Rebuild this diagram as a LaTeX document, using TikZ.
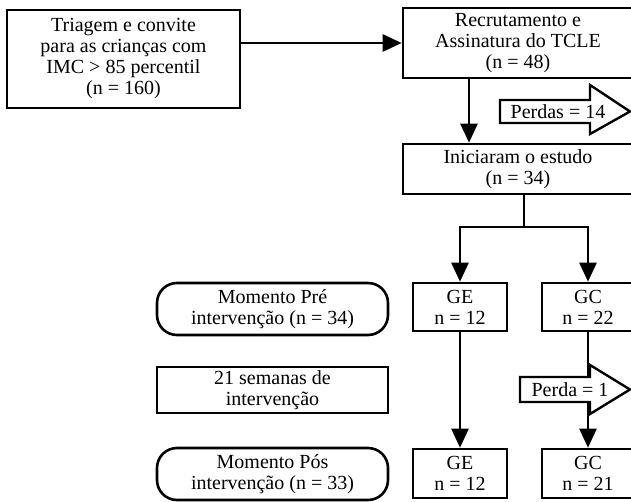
\documentclass[tikz,border=0pt]{standalone}
\usepackage{fontspec}
\setmainfont{Liberation Serif}
\usetikzlibrary{arrows.meta}
\begin{document}
\begin{tikzpicture}[x=1pt,y=-1pt,
  box/.style={draw, line width=2.6pt, align=center, font=\fontsize{20}{21}\selectfont, inner sep=0pt},
  rbox/.style={box, rounded corners=20pt},
  conn/.style={line width=2.6pt},
  arr/.style={conn, -{Triangle[width=17pt,length=19pt]}},
  lossarrow/.style={draw, line width=2.4pt, fill=white, line join=miter},
  txt/.style={font=\fontsize{20}{21}\selectfont, inner sep=0pt}]
\useasboundingbox (0,0) rectangle (631,502);
\clip (0,0) rectangle (631,502);
\node[box, minimum width=233pt, minimum height=98pt] (tri) at (123.5,59) {Triagem e convite\\para as crianças com\\IMC > 85 percentil\\(n = 160)};
\node[box, minimum width=230pt, minimum height=70pt] (rec) at (518,43) {Recrutamento e\\Assinatura do TCLE\\(n = 48)};
\node[box, minimum width=230pt, minimum height=50pt] (ini) at (518,169) {Iniciaram o estudo\\(n = 34)};
\node[box, minimum width=94pt, minimum height=48pt] (ge1) at (460,307) {GE\\n = 12};
\node[box, minimum width=92pt, minimum height=48pt] (gc1) at (588,307) {GC\\n = 22};
\node[box, minimum width=94pt, minimum height=49pt] (ge2) at (460,473.5) {GE\\n = 12};
\node[box, minimum width=92pt, minimum height=49pt] (gc2) at (588,473.5) {GC\\n = 21};
\node[rbox, minimum width=231pt, minimum height=52pt] (pre) at (272.5,309) {Momento Pré\\intervenção (n = 34)};
\node[box, minimum width=231pt, minimum height=46pt] (sem) at (272.5,390) {21 semanas de\\intervenção};
\node[rbox, minimum width=231pt, minimum height=52pt] (pos) at (272.5,474) {Momento Pós\\intervenção (n = 33)};
\draw[arr] (tri.east |- rec.west) -- (rec.west);
\draw[arr] ([xshift=-49pt]rec.south) -- ([xshift=-49pt]ini.north);
\coordinate (split) at (524,227);
\draw[conn] ([xshift=6pt]ini.south) -- (split);
\draw[arr] (split) -| (ge1.north);
\draw[arr] (split) -| (gc1.north);
\draw[arr] (ge1) -- (ge2);
\draw[arr] (gc1) -- (gc2);
\draw[lossarrow] (500,100) -- (590,100) -- (590,85) -- (630,111.5) -- (590,134) -- (590,123) -- (500,123) -- cycle;
\node[txt] (perdas) at (558,112) {Perdas = 14};
\draw[lossarrow] (520,377) -- (590,377) -- (590,365) -- (630,389.5) -- (590,414) -- (590,402) -- (520,402) -- cycle;
\node[txt] (perda) at (570,390) {Perda = 1};
\end{tikzpicture}
\end{document}
